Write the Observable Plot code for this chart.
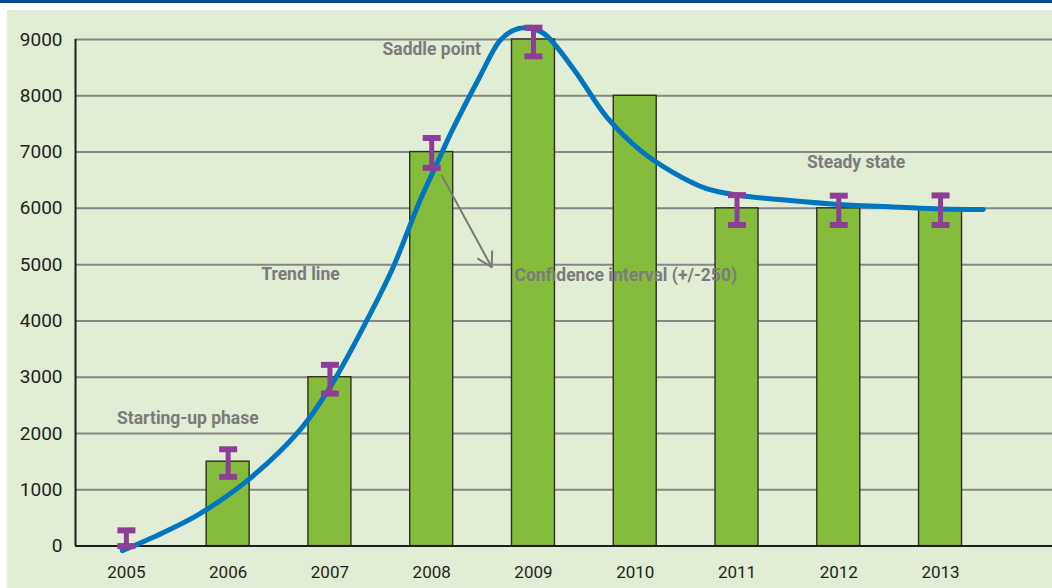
<!DOCTYPE html>
<html>
<head>
<meta charset="utf-8">
<script src="https://cdn.jsdelivr.net/npm/d3@7"></script>
<script src="https://cdn.jsdelivr.net/npm/@observablehq/plot@0.6"></script>
<style>
  html, body { margin: 0; padding: 0; background: #ffffff; }
  #wrap { position: relative; width: 1052px; height: 588px; overflow: hidden; }
  #band { position: absolute; left: 0; top: 0; width: 1052px; height: 3px; background: #0c4b93; }
  #panel { position: absolute; left: 7px; top: 10px; width: 1045px; height: 578px; background: #e1edd4; }
  #chart { position: absolute; left: 0; top: 0; }
  #chart svg { background: transparent; }
</style>
</head>
<body>
<div id="wrap">
  <div id="band"></div>
  <div id="panel"></div>
  <div id="chart"></div>
</div>
<script>
// ---- data ----
const years = [2005, 2006, 2007, 2008, 2009, 2010, 2011, 2012, 2013];
const values = [0, 1500, 3000, 7000, 9000, 8000, 6000, 6000, 6000];
const errLow = [0, 1230, 2710, 6720, 8700, null, 5705, 5705, 5705];
const errHigh = [280, 1720, 3220, 7250, 9210, null, 6235, 6225, 6230];

const trendYears = [2004.96, 2005.35, 2005.72, 2006.2, 2006.7, 2007.0, 2007.36, 2007.62, 2007.885, 2008.05, 2008.2, 2008.47, 2008.67, 2008.8, 2008.93, 2009.1, 2009.4, 2009.72, 2010.05, 2010.37, 2010.7, 2011.03, 2011.52, 2012.0, 2012.6, 2013.0, 2013.42];
const trendValues = [-80, 230, 573, 1180, 2050, 2820, 4000, 4950, 6140, 6790, 7380, 8330, 8980, 9160, 9206, 9110, 8460, 7620, 7030, 6640, 6350, 6230, 6140, 6070, 6020, 5990, 5980];

const yTicks = [0, 1000, 2000, 3000, 4000, 5000, 6000, 7000, 8000, 9000];
const gridTicks = [1000, 2000, 3000, 4000, 5000, 6000, 7000, 8000, 9000];

const noteTexts = ["Saddle point", "Trend line", "Confidence interval (+/-250)", "Steady state", "Starting-up phase"];
const noteYears = [2008.0, 2006.71, 2009.907, 2012.17, 2005.604];
const noteValues = [8830, 4820, 4815, 6820, 2270];

const arrowFrom = [2008.1, 6580];
const arrowTo = [2008.59, 4955];

// ---- tables ----
const bars = years.map((y, i) => ({year: y, value: values[i]})).filter(d => d.value > 0);
const errs = years.map((y, i) => ({year: y, lo: errLow[i], hi: errHigh[i]})).filter(d => d.lo != null);
const caps = errs.flatMap(d => [{year: d.year, v: d.lo}, {year: d.year, v: d.hi}]);
const trend = trendYears.map((x, i) => ({x, y: trendValues[i]}));
const notes = noteTexts.map((t, i) => ({t, x: noteYears[i], y: noteValues[i]}));
const arrows = [{x1: arrowFrom[0], y1: arrowFrom[1], x2: arrowTo[0], y2: arrowTo[1]}];

const capSymbol = { draw(ctx) { ctx.rect(-9, -3, 18, 6); } };

const purple = "#8d3f97";

const chart = Plot.plot({
  width: 1052,
  height: 588,
  marginLeft: 75,
  marginRight: 0,
  marginTop: 39,
  marginBottom: 42.4,
  style: {fontFamily: "Roboto, sans-serif", color: "#231f20", background: "transparent", overflow: "visible"},
  x: {domain: [2004.5, 2014.1]},
  y: {domain: [0, 9000]},
  marks: [
    Plot.ruleY(gridTicks, {stroke: "#868686", strokeWidth: 2}),
    Plot.rectY(bars, {
      x1: d => d.year - 0.5, x2: d => d.year + 0.5, y1: 0, y2: "value",
      insetLeft: 29.4, insetRight: 29.4,
      fill: "#86bc3b", stroke: "#2e2e22", strokeWidth: 1.4
    }),
    Plot.ruleX([2004.5], {y1: 0, y2: 9000, stroke: "#1d1d1b", strokeWidth: 2}),
    Plot.ruleY([0], {stroke: "#1d1d1b", strokeWidth: 2}),
    Plot.line(trend, {x: "x", y: "y", stroke: "#0076c0", strokeWidth: 5, curve: "catmull-rom"}),
    Plot.ruleX(errs, {x: "year", y1: "lo", y2: "hi", stroke: purple, strokeWidth: 5}),
    Plot.dot(caps, {x: "year", y: "v", symbol: capSymbol, fill: purple, stroke: null, r: 4}),
    Plot.arrow(arrows, {x1: "x1", y1: "y1", x2: "x2", y2: "y2", stroke: "#7a7a7a", strokeWidth: 2, headLength: 12}),
    Plot.text(notes, {x: "x", y: "y", text: "t", fill: "#7b7b7b", fontSize: 17.5, fontWeight: "bold", fontFamily: "Roboto, sans-serif", textAnchor: "middle"}),
    Plot.axisY({ticks: yTicks, tickSize: 0, tickPadding: 13, fontSize: 19, label: null, tickFormat: d => String(d)}),
    Plot.axisX({ticks: years, tickSize: 0, tickPadding: 20, fontSize: 17, label: null, tickFormat: d => String(d)})
  ]
});
document.getElementById("chart").appendChild(chart);
</script>
</body>
</html>
